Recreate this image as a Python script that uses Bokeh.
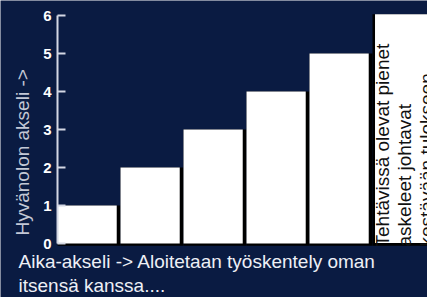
import math
from bokeh.plotting import figure
from bokeh.models import Label, Range1d, FixedTicker
from bokeh.transform import dodge
from bokeh.embed import file_html
from bokeh.resources import INLINE

# Data
steps = [1, 2, 3, 4, 5]
wellbeing = [1, 2, 3, 4, 5]
note_step = [6]
note_height = [6.03]
y_ticks = [0, 1, 2, 3, 4, 5, 6]
y_label = "Hyvänolon akseli ->"
x_label_lines = ["Aika-akseli -> Aloitetaan työskentely oman", "itsensä kanssa...."]
note_lines = ["Tehtävissä olevat pienet", "askeleet johtavat", "kestävään tulokseen"]

BG = "#0a1b42"
FONT = "Liberation Sans"

p = figure(width=427, height=297, output_backend="svg", toolbar_location=None,
           x_axis_type=None,
           x_range=Range1d(-0.405, 6.373), y_range=Range1d(-1.421, 6.395),
           min_border=0, min_border_left=0, min_border_right=0,
           min_border_top=0, min_border_bottom=0)
p.background_fill_color = BG
p.border_fill_color = BG
p.outline_line_color = None
p.grid.visible = False

src = dict(x=steps, top=wellbeing)
p.vbar(x="x", top="top", width=1, bottom=-0.06, source=src, fill_color="black", line_color=None)
p.vbar(x=dodge("x", -0.03), top="top", width=0.94, bottom=0, source=src,
       fill_color="white", line_color=None)
nsrc = dict(x=note_step, top=note_height)
p.vbar(x="x", top="top", width=1, bottom=-0.06, source=nsrc, fill_color="black", line_color=None)
p.vbar(x=dodge("x", 0.03), top="top", width=0.98, bottom=0.01, source=nsrc,
       fill_color="white", line_color=None)

ya = p.yaxis[0]
ya.fixed_location = 0.5
ya.bounds = (0, 6)
ya.ticker = FixedTicker(ticks=y_ticks)
ya.axis_line_color = "#d4d8e4"
ya.axis_line_width = 2
ya.major_tick_line_color = "#d4d8e4"
ya.major_tick_line_width = 2
ya.major_tick_in = 8
ya.major_tick_out = 0
ya.minor_tick_line_color = None
ya.major_label_text_color = "white"
ya.major_label_text_font = FONT
ya.major_label_text_font_style = "bold"
ya.major_label_text_font_size = "15px"
ya.major_label_standoff = 6

# y axis label
p.add_layout(Label(x=22, y=62, x_units="screen", y_units="screen", text=y_label,
                   angle=math.pi / 2, text_align="left", text_baseline="middle",
                   text_color="#c3c8d6", text_font=FONT, text_font_size="19px"))

# bottom text
for i, line in enumerate(x_label_lines):
    p.add_layout(Label(x=18, y=36 - 24 * i, x_units="screen", y_units="screen",
                       text=line, text_align="left", text_baseline="alphabetic",
                       text_color="#eef0f6", text_font=FONT, text_font_size="19px"))

# note text inside the white box
for i, line in enumerate(note_lines):
    p.add_layout(Label(x=382 + 22 * i, y=51, x_units="screen", y_units="screen",
                       text=line, angle=math.pi / 2, text_align="left",
                       text_baseline="middle", text_color="#111111",
                       text_font=FONT, text_font_size="19px"))

html = file_html(p, INLINE)
html = html.replace("<body>", '<body style="background:%s">' % BG, 1)
open("out.html", "w").write(html)
